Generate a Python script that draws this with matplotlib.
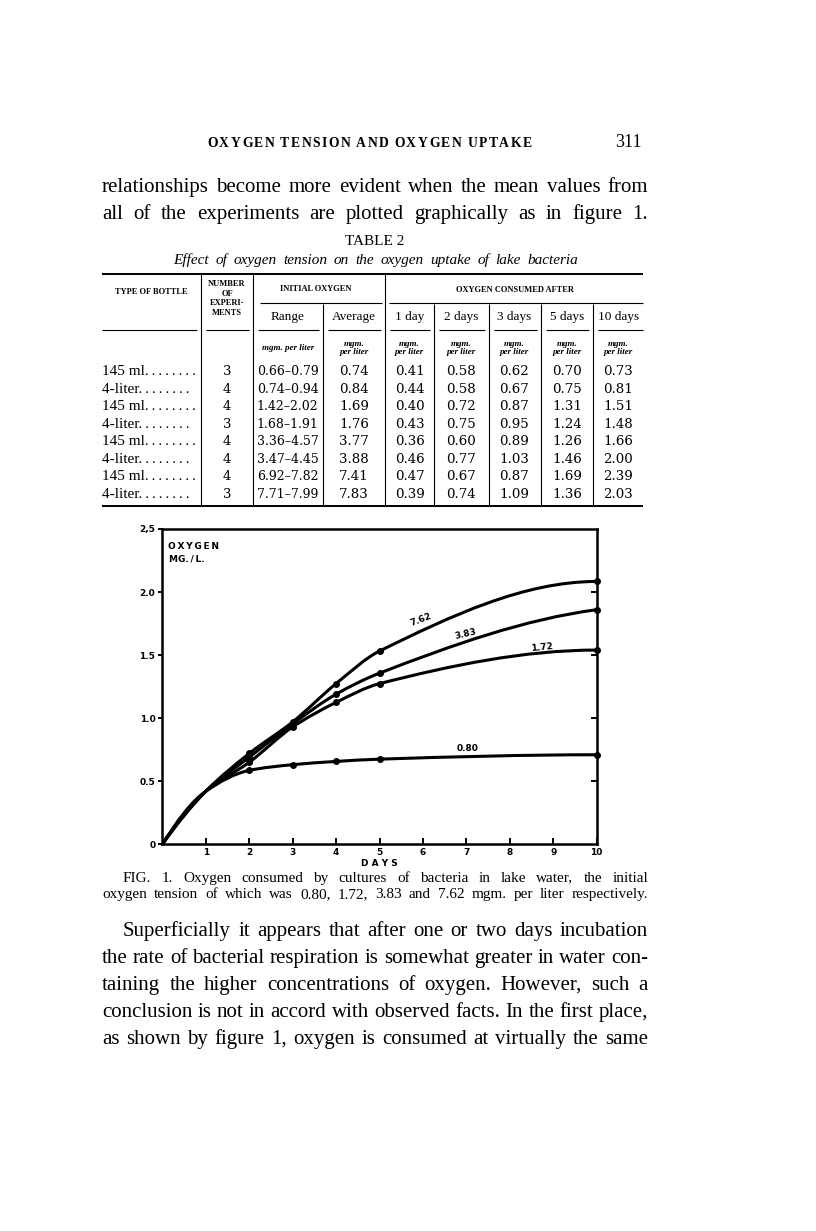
import numpy as np
import matplotlib
matplotlib.use("Agg")
import matplotlib.pyplot as plt
from matplotlib.path import Path
from matplotlib.patches import PathPatch

# ---- table 2 data ----
bottle_types = ["145 ml", "4-liter", "145 ml", "4-liter", "145 ml", "4-liter", "145 ml", "4-liter"]
n_experiments = [3, 4, 4, 3, 4, 4, 4, 3]
o2_range = ["0.66–0.79", "0.74–0.94", "1.42–2.02", "1.68–1.91",
            "3.36–4.57", "3.47–4.45", "6.92–7.82", "7.71–7.99"]
o2_average = [0.74, 0.84, 1.69, 1.76, 3.77, 3.88, 7.41, 7.83]
day1 = [0.41, 0.44, 0.40, 0.43, 0.36, 0.46, 0.47, 0.39]
day2 = [0.58, 0.58, 0.72, 0.75, 0.60, 0.77, 0.67, 0.74]
day3 = [0.62, 0.67, 0.87, 0.95, 0.89, 1.03, 0.87, 1.09]
day5 = [0.70, 0.75, 1.31, 1.24, 1.26, 1.46, 1.69, 1.36]
day10 = [0.73, 0.81, 1.51, 1.48, 1.66, 2.00, 2.39, 2.03]
day_headers = ["1 day", "2 days", "3 days", "5 days", "10 days"]

# ---- figure 1 data ----
curve_days = [0, 1, 2, 3, 4, 5, 10]
marker_days = [2, 3, 4, 5, 10]
curve_080 = [0, 0.42, 0.586, 0.631, 0.657, 0.675, 0.71]
curve_172 = [0, 0.42, 0.65, 0.93, 1.125, 1.274, 1.54]
curve_383 = [0, 0.42, 0.69, 0.955, 1.19, 1.357, 1.86]
curve_762 = [0, 0.42, 0.72, 0.97, 1.274, 1.532, 2.084]
curve_names = ["0.80", "1.72", "3.83", "7.62"]
y_ticks = [0, 0.5, 1.0, 1.5, 2.0, 2.5]
y_ticklabels = ["0", "0.5", "1.0", "1.5", "2.0", "2,5"]

W, H = 816, 1231
SERIF = "Liberation Serif"
NUM = "DejaVu Serif"
SANS = "DejaVu Sans"

fig = plt.figure(figsize=(W / 100, H / 100), dpi=100)
page = fig.add_axes([0, 0, 1, 1])
page.set_xlim(0, W)
page.set_ylim(H, 0)
page.axis("off")
renderer = fig.canvas.get_renderer()


def text_width(s, **kw):
    t = page.text(0, 0, s, **kw)
    w = t.get_window_extent(renderer).width
    t.remove()
    return w


def justify(line, x0, x1, y, **kw):
    words = line.split()
    widths = [text_width(w, **kw) for w in words]
    gap = (x1 - x0 - sum(widths)) / max(len(words) - 1, 1)
    x = x0
    for w, wd in zip(words, widths):
        page.text(x, y, w, ha="left", va="baseline", **kw)
        x += wd + gap


def spread(line, x0, x1, y, word_gap=2.0, **kw):
    # letter-spaced line, spaces get word_gap times the letter tracking
    chars = list(line)
    widths = [0.0 if c == " " else text_width(c, **kw) for c in chars]
    units = sum(word_gap if c == " " else 1.0 for c in chars[1:])
    track = (x1 - x0 - sum(widths)) / units
    x = x0
    for i, (c, wd) in enumerate(zip(chars, widths)):
        if c != " ":
            page.text(x, y, c, ha="left", va="baseline", **kw)
        nxt = chars[i + 1] if i + 1 < len(chars) else ""
        x += wd + (track * word_gap if nxt == " " else track if c != " " else 0)


def hline(y, x0, x1, lw=0.8):
    page.plot([x0, x1], [y, y], color="black", lw=lw, solid_capstyle="butt")


def vline(x, y0, y1, lw=0.8):
    page.plot([x, x], [y0, y1], color="black", lw=lw, solid_capstyle="butt")


# ---- running head and first paragraph ----
spread("OXYGEN TENSION AND OXYGEN UPTAKE", 207, 538, 147, word_gap=3.5,
       family=SERIF, fontsize=9.8, weight="bold")
page.text(642, 147, "311", ha="right", va="baseline", family=SERIF, fontsize=13)
body = dict(family=SERIF, fontsize=15)
justify("relationships become more evident when the mean values from", 102, 648, 192, **body)
justify("all of the experiments are plotted graphically as in figure 1.", 102, 648, 219, **body)

page.text(375, 245, "TABLE 2", ha="center", va="baseline", family=SERIF, fontsize=11)
justify("Effect of oxygen tension on the oxygen uptake of lake bacteria", 173, 578, 264,
        family=SERIF, fontsize=11, style="italic")

# ---- table 2 ----
tx0, tx1 = 102, 643
col_edges = [tx0, 201, 252.7, 322.7, 385, 434, 488.5, 540.5, 593.3, tx1]
hline(273.5, tx0, tx1, lw=1.4)
hline(303, 260, 382)
hline(303, 389, tx1)
for a, b in zip(col_edges[:-1], col_edges[1:]):
    hline(329.5, a + (5 if a > tx0 else 0), b - (4 if b < tx1 else 0))
hline(506, tx0, tx1, lw=1.4)
for x in [201, 252.7, 385]:
    vline(x, 273.5, 506)
for x in [322.7, 434, 488.5, 540.5, 593.3]:
    vline(x, 304, 506)

hdr = dict(family=SERIF, fontsize=6, weight="bold", ha="center", va="center")
page.text(151, 292, "TYPE OF BOTTLE", **hdr)
for txt, yy in zip(["NUMBER", "OF", "EXPERI-", "MENTS"], [284, 293.5, 303, 313]):
    page.text(227, yy, txt, **hdr)
page.text(316, 289, "INITIAL OXYGEN", **hdr)
page.text(515, 290, "OXYGEN CONSUMED AFTER", **hdr)

centers = [(a + b) / 2 for a, b in zip(col_edges[2:-1], col_edges[3:])]
sub = dict(family=SERIF, fontsize=9.5, ha="center", va="center")
page.text(centers[0], 317, "Range", **sub)
page.text(centers[1], 317, "Average", **sub)
for c, t in zip(centers[2:], day_headers):
    page.text(c, 317, t, **sub)

unit = dict(family=SERIF, fontsize=6.5, style="italic", weight="bold", ha="center", va="center")
page.text(centers[0], 348, "mgm. per liter", **unit)
for c in centers[1:]:
    page.text(c, 343.5, "mgm.", **unit)
    page.text(c, 352.5, "per liter", **unit)

num = dict(family=NUM, fontsize=9.6, ha="center", va="baseline")
lab = dict(family=SERIF, fontsize=11, ha="left", va="baseline")
leader = ".\u2009"
leader_w = text_width(leader * 10, family=SERIF, fontsize=11) / 10
for i in range(len(bottle_types)):
    yb = 370.5 + 17.55 * i + 4.5
    free = 199 - 102 - text_width(bottle_types[i], family=SERIF, fontsize=11)
    page.text(102, yb, bottle_types[i] + leader * int(free / leader_w), **lab)
    page.text(227, yb, str(n_experiments[i]), **num)
    page.text(centers[0], yb, o2_range[i], family=NUM, fontsize=9.0,
              ha="center", va="baseline")
    vals = [o2_average[i], day1[i], day2[i], day3[i], day5[i], day10[i]]
    for c, v in zip(centers[1:], vals):
        page.text(c, yb, f"{v:.2f}", **num)

# ---- figure 1 ----
ax = fig.add_axes([162.3 / W, 1 - 844.3 / H, 434.4 / W, (844.3 - 529) / H])
ax.patch.set_alpha(0)
ax.set_xlim(0, 10)
ax.set_ylim(0, 2.5)
for s in ax.spines.values():
    s.set_linewidth(1.8)

tick_font = dict(family=SANS, fontsize=6.5, weight="bold")
ax.set_xticks(range(1, 11))
ax.set_xticklabels([str(d) for d in range(1, 11)], **tick_font)
ax.tick_params(axis="x", direction="in", length=4, width=1.4, pad=3)
ax.set_yticks(y_ticks)
ax.set_yticklabels(y_ticklabels, **tick_font)
ax.tick_params(axis="y", direction="out", length=3, width=1.4, pad=2)

rax = ax.twinx()
rax.set_ylim(0, 2.5)
rax.set_yticks(y_ticks[1:-1])
rax.tick_params(axis="y", direction="in", length=4, width=1.4, labelright=False)
for s in rax.spines.values():
    s.set_visible(False)


def pchip_slopes(x, y):
    h = np.diff(x)
    d = np.diff(y) / h
    m = np.zeros_like(y)
    for k in range(1, len(x) - 1):
        if d[k - 1] * d[k] > 0:
            w1 = 2 * h[k] + h[k - 1]
            w2 = h[k] + 2 * h[k - 1]
            m[k] = (w1 + w2) / (w1 / d[k - 1] + w2 / d[k])

    def end(h0, h1, d0, d1):
        s = ((2 * h0 + h1) * d0 - h0 * d1) / (h0 + h1)
        if np.sign(s) != np.sign(d0):
            s = 0.0
        elif np.sign(d0) != np.sign(d1) and abs(s) > abs(3 * d0):
            s = 3 * d0
        return s

    m[0] = end(h[0], h[1], d[0], d[1])
    m[-1] = end(h[-1], h[-2], d[-1], d[-2])
    return m


def curve_path(x, y):
    x = np.asarray(x, float)
    y = np.asarray(y, float)
    m = pchip_slopes(x, y)
    verts = [(x[0], y[0])]
    codes = [Path.MOVETO]
    for k in range(len(x) - 1):
        h = x[k + 1] - x[k]
        verts += [(x[k] + h / 3, y[k] + m[k] * h / 3),
                  (x[k + 1] - h / 3, y[k + 1] - m[k + 1] * h / 3),
                  (x[k + 1], y[k + 1])]
        codes += [Path.CURVE4] * 3
    return Path(verts, codes)


curves = [curve_080, curve_172, curve_383, curve_762]
for vals in curves:
    ax.add_patch(PathPatch(curve_path(curve_days, vals), fill=False, lw=2.2,
                           edgecolor="black", capstyle="round", zorder=3))
    mk = [vals[curve_days.index(d)] for d in marker_days]
    ax.plot(marker_days, mk, "o", color="black", ms=4.0, zorder=4, clip_on=False)

label_pos = [(7.03, 0.76, 0), (8.73, 1.56, 5.5), (6.99, 1.67, 13), (5.95, 1.78, 21)]
for name, (lx, ly, rot) in zip(curve_names, label_pos):
    ax.text(lx, ly, name, ha="center", va="center", rotation=rot,
            rotation_mode="anchor", **tick_font)

ax.text(0.13, 2.34, "O\u2009X\u2009Y\u2009G\u2009E\u2009N", ha="left", va="baseline", **tick_font)
ax.text(0.16, 2.245, "MG.\u2009/\u2009L.", ha="left", va="baseline", **tick_font)
ax.text(5, -0.115, "D A Y S", ha="center", va="top", **tick_font)

# ---- caption and second paragraph ----
cap = dict(family=SERIF, fontsize=11)
justify("FIG. 1. Oxygen consumed by cultures of bacteria in lake water, the initial",
        123, 648, 882, **cap)
justify("oxygen tension of which was 0.80, 1.72, 3.83 and 7.62 mgm. per liter respectively.",
        102, 648, 898, **cap)

para = [
    ("Superficially it appears that after one or two days incubation", 123),
    ("the rate of bacterial respiration is somewhat greater in water con-", 102),
    ("taining the higher concentrations of oxygen.  However, such a", 102),
    ("conclusion is not in accord with observed facts.  In the first place,", 102),
    ("as shown by figure 1, oxygen is consumed at virtually the same", 102),
]
for i, (line, x0) in enumerate(para):
    justify(line, x0, 648, 936 + 27 * i, **body)

fig.savefig("out.png", dpi=100)
